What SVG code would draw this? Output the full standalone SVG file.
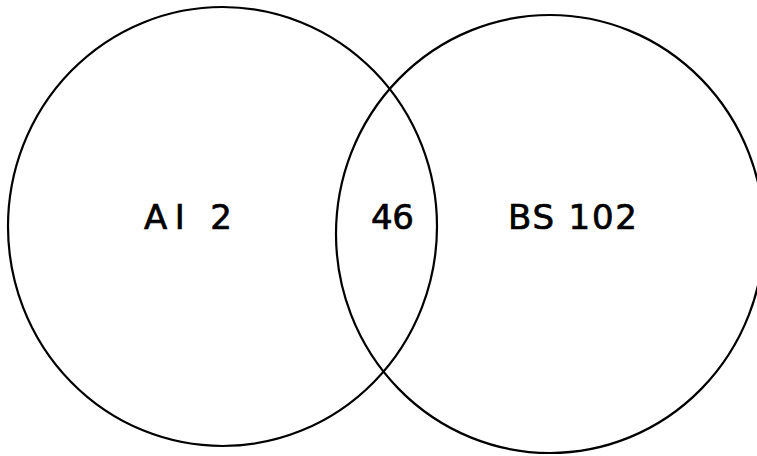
<svg xmlns="http://www.w3.org/2000/svg" width="757" height="456" viewBox="0 0 757 456">
<style>
.set{fill:none;stroke:#000;stroke-width:2.2}
.lbl{font-family:"Comic Sans MS","DejaVu Sans",sans-serif;font-size:34px;fill:#000;stroke:#000;stroke-width:0.7}
</style>
<rect width="757" height="456" fill="#fff"/>
<g id="set-ai">
<ellipse class="set" cx="222.5" cy="226.5" rx="214.5" ry="219.5"/>
<text class="lbl" x="144" y="229" textLength="88" lengthAdjust="spacing">AI 2</text>
</g>
<g id="set-bs">
<ellipse class="set" cx="550" cy="234" rx="214" ry="219"/>
<text class="lbl" x="508" y="229" textLength="129" lengthAdjust="spacing">BS 102</text>
</g>
<g id="overlap">
<text class="lbl" x="371" y="229" textLength="43" lengthAdjust="spacing">46</text>
</g>
</svg>
